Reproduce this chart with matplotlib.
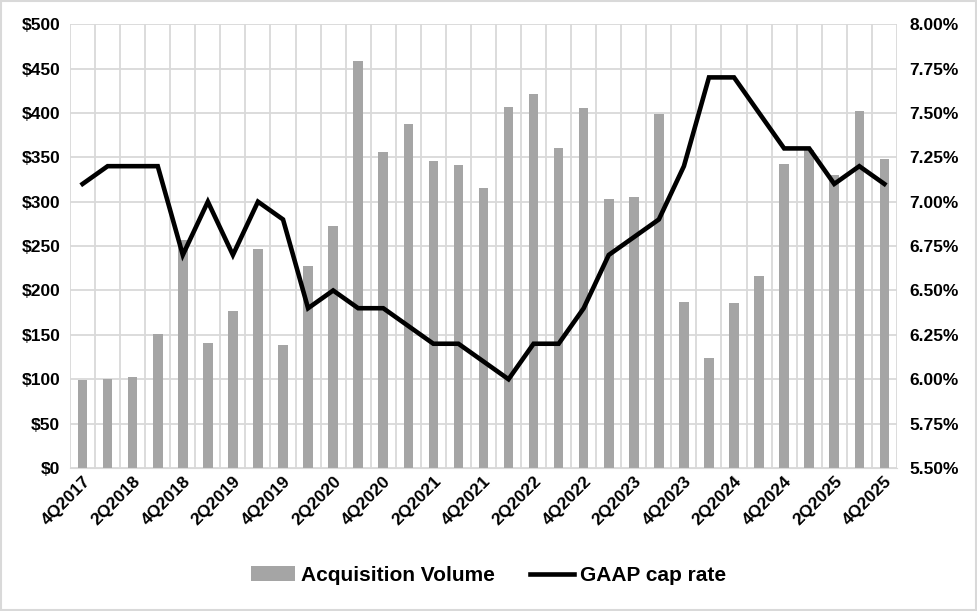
import matplotlib
matplotlib.use('Agg')
import matplotlib.pyplot as plt
from matplotlib.ticker import FuncFormatter, MultipleLocator
import numpy as np

plt.rcParams['font.family'] = ['Liberation Sans', 'DejaVu Sans']

quarters = ['4Q2017', '1Q2018', '2Q2018', '3Q2018', '4Q2018', '1Q2019', '2Q2019', '3Q2019',
            '4Q2019', '1Q2020', '2Q2020', '3Q2020', '4Q2020', '1Q2021', '2Q2021', '3Q2021',
            '4Q2021', '1Q2022', '2Q2022', '3Q2022', '4Q2022', '1Q2023', '2Q2023', '3Q2023',
            '4Q2023', '1Q2024', '2Q2024', '3Q2024', '4Q2024', '1Q2025', '2Q2025', '3Q2025',
            '4Q2025']
acq_volume = [99, 100, 103, 151, 257, 141, 177, 247, 139, 228, 273, 459, 356, 387, 346, 341,
              315, 407, 421, 360, 405, 303, 305, 399, 187, 124, 186, 216, 342, 358, 330, 402,
              348]
cap_rate = [7.10, 7.20, 7.20, 7.20, 6.70, 7.00, 6.70, 7.00, 6.90, 6.40, 6.50, 6.40, 6.40, 6.30,
            6.20, 6.20, 6.10, 6.00, 6.20, 6.20, 6.40, 6.70, 6.80, 6.90, 7.20, 7.70, 7.70, 7.50,
            7.30, 7.30, 7.10, 7.20, 7.10]

x = np.arange(len(quarters))

fig = plt.figure(figsize=(9.77, 6.11), dpi=100)
ax = fig.add_axes([0.0717, 0.234, 0.8463, 0.7265])
ax2 = ax.twinx()

grid_c = '#d9d9d9'
ax.set_axisbelow(True)
ax.yaxis.grid(True, color=grid_c, lw=1.3)
for b in np.arange(-0.5, len(quarters), 1.0):
    ax.axvline(b, color=grid_c, lw=1.3, zorder=0)

bars = ax.bar(x, acq_volume, width=0.38, color='#a5a5a5', label='Acquisition Volume', zorder=2)
line, = ax2.plot(x, cap_rate, color='black', lw=3.3, label='GAAP cap rate',
                 solid_joinstyle='miter')

ax.set_xlim(-0.5, len(quarters) - 0.5)
ax.set_ylim(0, 500)
ax.yaxis.set_major_locator(MultipleLocator(50))
ax.yaxis.set_major_formatter(FuncFormatter(lambda v, p: f'${v:.0f}'))
ax2.set_ylim(5.5, 8.0)
ax2.yaxis.set_major_locator(MultipleLocator(0.25))
ax2.yaxis.set_major_formatter(FuncFormatter(lambda v, p: f'{v:.2f}%'))

ax.set_xticks(x[::2])
ax.set_xticklabels(quarters[::2], rotation=45, ha='right', rotation_mode='anchor')

for a in (ax, ax2):
    for s in a.spines.values():
        s.set_visible(False)
    a.tick_params(length=0, labelsize=12.5)
    for t in a.get_yticklabels() + a.get_xticklabels():
        t.set_fontweight('bold')
ax.spines['bottom'].set_visible(True)
ax.spines['bottom'].set_color(grid_c)
ax.tick_params(axis='y', pad=7)
ax2.tick_params(axis='y', pad=9)
ax.tick_params(axis='x', pad=4)

fig.legend([bars, line], ['Acquisition Volume', 'GAAP cap rate'], loc='center',
           bbox_to_anchor=(0.5, 0.058), ncol=2, frameon=False, handlelength=2.1,
           handletextpad=0.3, columnspacing=1.7, prop={'weight': 'bold', 'size': 15})

fig.patches.append(plt.Rectangle((0.001, 0.001), 0.998, 0.998, transform=fig.transFigure,
                                 fill=False, edgecolor='#d9d9d9', lw=1.5))

fig.savefig('out.png', dpi=100)
